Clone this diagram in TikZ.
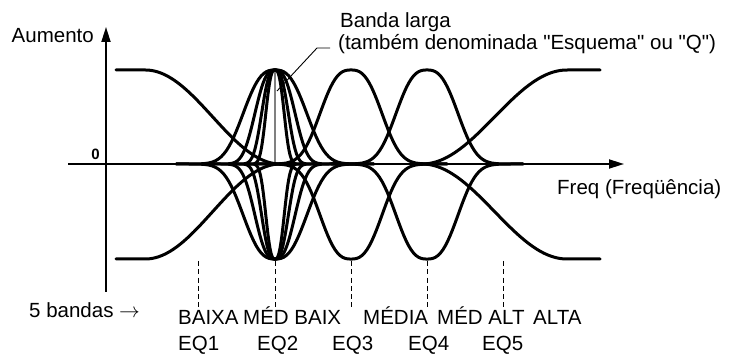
\documentclass[tikz,border=0pt]{standalone}
\usepackage{fontspec}
\setmainfont{Liberation Sans}[Ligatures=TeXOff]
\usetikzlibrary{arrows.meta}
\begin{document}
\begin{tikzpicture}[x=1pt,y=-1pt,
  curve/.style={line width=3pt,line join=round,line cap=round},
  axisline/.style={line width=1.8pt,-{Triangle[length=15pt,width=9pt]}},
  guide/.style={line width=1pt,dash pattern=on 5pt off 3.3pt},
  lbl/.style={font=\fontsize{20.5}{24}\selectfont,inner sep=0pt,anchor=base west}]
\useasboundingbox (0,0) rectangle (734,355);
% axes
\coordinate (xa0) at (68,164);
\coordinate (xa1) at (624,164);
\coordinate (ya0) at (106,292);
\coordinate (ya1) at (106,27);
\draw[axisline] (xa0) -- (xa1);
\draw[axisline] (ya0) -- (ya1);
% grey centre line of EQ2
\coordinate (g0) at (275,70);
\coordinate (g1) at (275,164);
\draw[gray,line width=1.2pt] (g0) -- (g1);
% low shelf
\draw[curve] plot[domain=116:281,samples=90]
  (\x,{164-94*(1+cos(180*min(max((\x-145.3)/135,0),1)))/2});
\draw[curve] plot[domain=116:281,samples=90]
  (\x,{164+95*(1+cos(180*min(max((\x-145.3)/135,0),1)))/2});
% high shelf
\draw[curve] plot[domain=421:600,samples=90]
  (\x,{164-94*(1+cos(180*min(max((600-\x-33)/145,0),1)))/2});
\draw[curve] plot[domain=421:600,samples=90]
  (\x,{164+95*(1+cos(180*min(max((600-\x-33)/145,0),1)))/2});
% bells EQ3, EQ4
\foreach \c in {351,427}{
  \draw[curve] plot[domain=-96:96,samples=80]
    ({\c+\x},{164-94*exp(-((abs(\x)+0.01)/37)^2.7)});
  \draw[curve] plot[domain=-96:96,samples=80]
    ({\c+\x},{164+95*exp(-((abs(\x)+0.01)/37)^2.7)});
}
% bells EQ2 (various Q)
\foreach \s in {38,24,16,11}{
  \draw[curve] plot[domain=-2.6*\s:2.6*\s,samples=80]
    ({275+\x},{164-94*exp(-((abs(\x)+0.01)/\s)^2.7)});
  \draw[curve] plot[domain=-2.6*\s:2.6*\s,samples=80]
    ({275+\x},{164+95*exp(-((abs(\x)+0.01)/\s)^2.7)});
}
% dashed guides
\foreach \n/\gx in {1/198,2/275,3/351,4/427,5/503}{
  \coordinate (d\n a) at (\gx,261);
  \coordinate (d\n b) at (\gx,308);
  \draw[guide] (d\n a) -- (d\n b);
}
% texts
\node[lbl,anchor=base east] (aum) at (94,43) {Aumento};
\node[font=\fontsize{15}{17}\selectfont\bfseries,inner sep=0pt,anchor=base east] (zero) at (100,160) {0};
\node[lbl] (freq) at (557,195) {Freq (Freqüência)};
\node[lbl] (banda) at (340,28) {Banda larga};
\node[lbl] (tamb) at (338,50) {(também denominada "Esquema" ou "Q")};
\coordinate (lp) at (277,91);
\coordinate (lk) at (317,48);
\draw[line width=0.9pt] (lp) -- (lk) -- ([shift={(-8,-2)}]tamb.base west);
\node[lbl] (bandas) at (29,318) {5 bandas $\rightarrow$};
\node[lbl] (b1) at (178,325) {BAIXA};
\node[lbl] (b2) at (243,325) {MÉD BAIX};
\node[lbl] (b3) at (363,325) {MÉDIA};
\node[lbl] (b4) at (437,325) {MÉD ALT};
\node[lbl] (b5) at (533,325) {ALTA};
\node[lbl] (e1) at (178,351) {EQ1};
\node[lbl] (e2) at (257,351) {EQ2};
\node[lbl] (e3) at (332,351) {EQ3};
\node[lbl] (e4) at (408,351) {EQ4};
\node[lbl] (e5) at (482,351) {EQ5};
\end{tikzpicture}
\end{document}
